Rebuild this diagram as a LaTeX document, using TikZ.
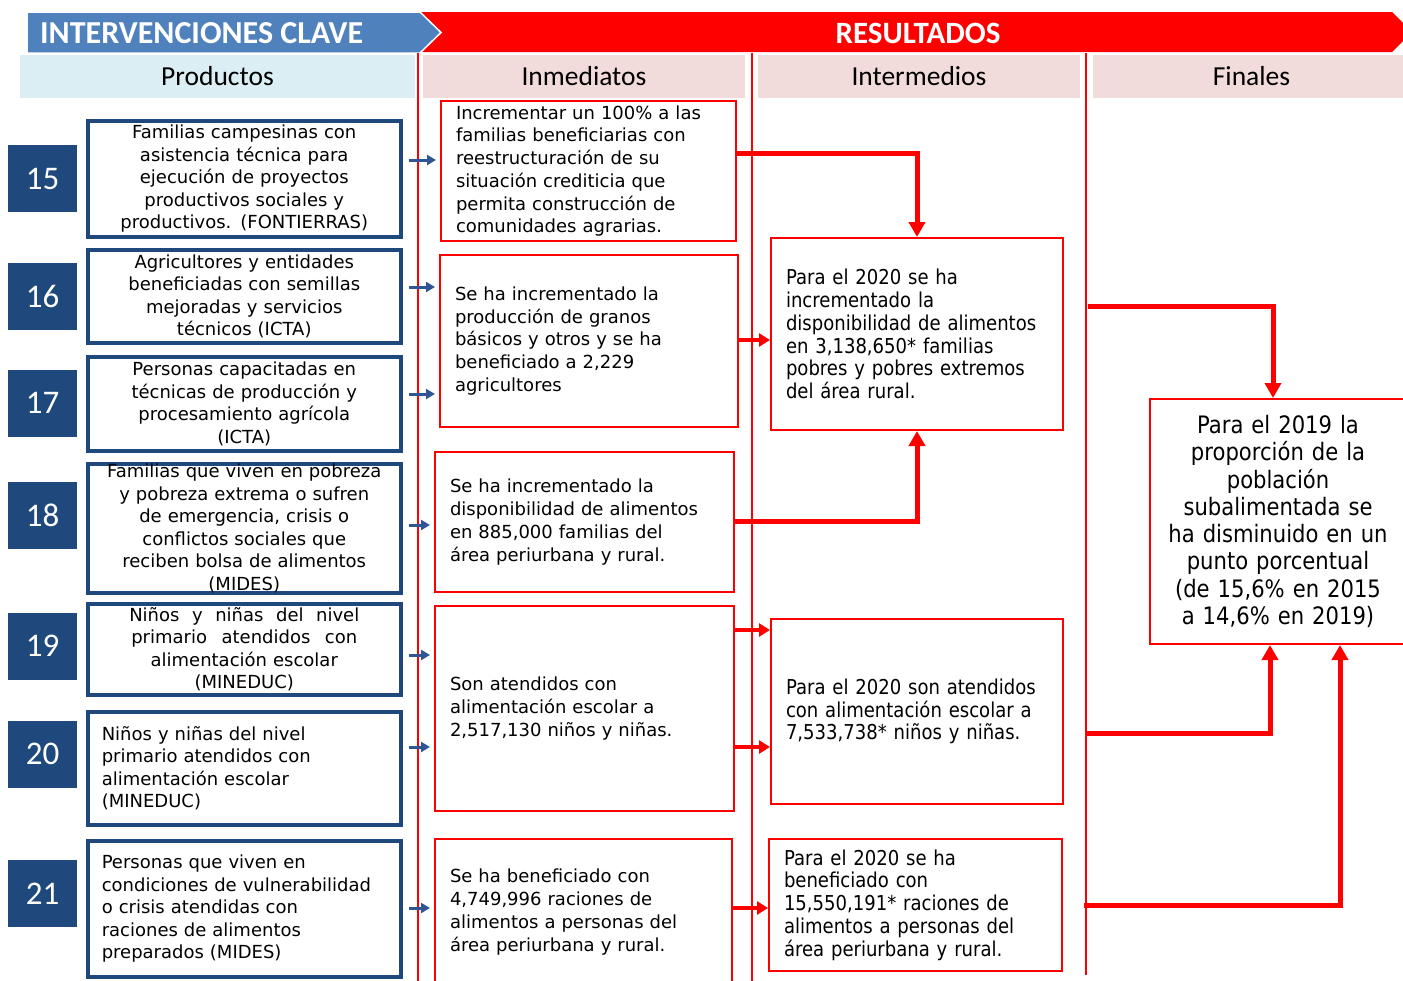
\documentclass[tikz,border=0pt]{standalone}
\usepackage{fontspec}
\setmainfont{DejaVu Sans}
\newfontfamily\hdr{Carlito}
\newfontfamily\cond[FakeStretch=0.88]{DejaVu Sans}
\usetikzlibrary{arrows.meta}
\definecolor{bannerblue}{HTML}{4F81BD}
\definecolor{darkblue}{HTML}{1F497D}
\definecolor{arrowblue}{HTML}{2F5597}
\definecolor{hdrblue}{HTML}{DAEEF3}
\definecolor{hdrpink}{HTML}{F2DCDB}
\definecolor{rred}{HTML}{FF0000}
\begin{document}
\begin{tikzpicture}[x=1pt,y=-1pt,
  pbox/.style={draw=darkblue, line width=3.5pt, fill=white, anchor=north west, inner xsep=8pt, inner ysep=0pt, minimum width=313pt, text width=297pt, align=center, font=\fontsize{18}{22.5}\selectfont},
  pboxl/.style={pbox, inner xsep=14pt, text width=285pt, align=left},
  numbox/.style={fill=darkblue, text=white, minimum width=69pt, minimum height=67pt, inner sep=0pt, font=\hdr\fontsize{33}{33}\selectfont},
  rbox/.style={draw=rred, line width=2pt, fill=white, anchor=north west, inner xsep=15pt, inner ysep=0pt, align=left, font=\fontsize{18}{22.7}\selectfont},
  mbox/.style={rbox, font=\cond\fontsize{20.5}{22.8}\selectfont},
  hdrbox/.style={minimum height=43pt, inner sep=0pt, font=\hdr\fontsize{27.5}{27.5}\selectfont},
  bannertext/.style={text=white, inner sep=0pt, font=\hdr\bfseries\fontsize{32}{32}\selectfont},
  barrow/.style={draw=arrowblue, line width=3pt, -{Triangle[length=9pt,width=10pt]}},
  rarrow/.style={draw=rred, line width=4pt, -{Triangle[length=11pt,width=13pt]}},
  relbow/.style={draw=rred, line width=5pt, -{Triangle[length=15pt,width=16pt]}},
  vline/.style={draw=rred, line width=2pt},
]
\useasboundingbox (0,0) rectangle (1403,980);
\fill[white] (0,0) rectangle (1403,980);

% banners
\fill[rred] (418,12) -- (1392,12) -- (1412,32) -- (1392,52) -- (418,52) -- cycle;
\filldraw[fill=bannerblue, draw=white, line width=1.5pt] (27,12) -- (420,12) -- (441,32.5) -- (420,53) -- (27,53) -- cycle;
\node[bannertext, anchor=west] (tInt) at (40,33) {INTERVENCIONES CLAVE};
\node[bannertext, font=\hdr\bfseries\fontsize{31}{31}\selectfont] (tRes) at (918,33) {RESULTADOS};

% column headers
\node[hdrbox, fill=hdrblue, minimum width=395pt] (hP) at (217.5,76.5) {Productos};
\node[hdrbox, fill=hdrpink, minimum width=322pt] (hI) at (584,76.5) {Inmediatos};
\node[hdrbox, fill=hdrpink, minimum width=322pt] (hM) at (919,76.5) {Intermedios};
\node[hdrbox, fill=hdrpink, minimum width=317pt] (hF) at (1251.5,76.5) {Finales};

% column separators
\draw[vline] (418,53) -- (418,985);
\draw[vline] (752,53) -- (752,985);
\draw[vline] (1086,53) -- (1086,975);

% number squares
\node[numbox] (n15) at (42.5,178.5) {15};
\node[numbox] (n16) at (42.5,296) {16};
\node[numbox] (n17) at (42.5,403) {17};
\node[numbox] (n18) at (42.5,515) {18};
\node[numbox] (n19) at (42.5,646) {19};
\node[numbox] (n20) at (42.5,754) {20};
\node[numbox] (n21) at (42.5,893.5) {21};

% products
\node[pbox, minimum height=116pt] (p15) at (86,119) {Familias campesinas con\\ asistencia técnica para\\ ejecución de proyectos\\ productivos sociales y\\ productivos. (FONTIERRAS)};
\node[pbox, minimum height=93pt] (p16) at (86,248) {Agricultores y entidades\\ beneficiadas con semillas\\ mejoradas y servicios\\ técnicos (ICTA)};
\node[pbox, minimum height=94pt] (p17) at (86,355) {Personas capacitadas en\\ técnicas de producción y\\ procesamiento agrícola\\ (ICTA)};
\node[pbox, minimum height=129pt] (p18) at (86,462) {Familias que viven en pobreza\\ y pobreza extrema o sufren\\ de emergencia, crisis o\\ conflictos sociales que\\ reciben bolsa de alimentos\\ (MIDES)};
\node[pbox, minimum height=91pt] (p19) at (86,602) {\makebox[230pt]{Niños\hfill y\hfill niñas\hfill del\hfill nivel}\\ \makebox[226pt]{primario\hfill atendidos\hfill con}\\ alimentación escolar\\ (MINEDUC)};
\node[pboxl, minimum height=113pt] (p20) at (86,710) {Niños y niñas del nivel\\ primario atendidos con\\ alimentación escolar\\ (MINEDUC)};
\node[pboxl, minimum height=136pt] (p21) at (86,839) {Personas que viven en\\ condiciones de vulnerabilidad\\ o crisis atendidas con\\ raciones de alimentos\\ preparados (MIDES)};

% immediate results
\node[rbox, minimum width=295pt, text width=265pt, minimum height=140pt] (i1) at (440,100) {Incrementar un 100\% a las\\ familias beneficiarias con\\ reestructuración de su\\ situación crediticia que\\ permita construcción de\\ comunidades agrarias.};
\node[rbox, minimum width=298pt, text width=268pt, minimum height=172pt] (i2) at (439,254) {Se ha incrementado la\\ producción de granos\\ básicos y otros y se ha\\ beneficiado a 2,229\\ agricultores};
\node[rbox, minimum width=299pt, text width=269pt, minimum height=140pt] (i3) at (434,451) {Se ha incrementado la\\ disponibilidad de alimentos\\ en 885,000 familias del\\ área periurbana y rural.};
\node[rbox, minimum width=299pt, text width=269pt, minimum height=205pt] (i4) at (434,605) {Son atendidos con\\ alimentación escolar a\\ 2,517,130 niños y niñas.};
\node[rbox, minimum width=297pt, text width=267pt, minimum height=146pt] (i5) at (434,838) {Se ha beneficiado con\\ 4,749,996 raciones de\\ alimentos a personas del\\ área periurbana y rural.};

% intermediate results
\node[mbox, minimum width=292pt, text width=262pt, minimum height=192pt] (m1) at (770,237) {Para el 2020 se ha\\ incrementado la\\ disponibilidad de alimentos\\ en 3,138,650* familias\\ pobres y pobres extremos\\ del área rural.};
\node[mbox, minimum width=292pt, text width=262pt, minimum height=185pt] (m2) at (770,618) {Para el 2020 son atendidos\\ con alimentación escolar a\\ 7,533,738* niños y niñas.};
\node[mbox, minimum width=293pt, text width=263pt, minimum height=132pt] (m3) at (768,838) {Para el 2020 se ha\\ beneficiado con\\ 15,550,191* raciones de\\ alimentos a personas del\\ área periurbana y rural.};

% final result
\node[rbox, font=\cond\fontsize{24}{27.3}\selectfont, align=center, inner xsep=8pt, text width=240pt, minimum width=256pt, minimum height=245pt] (f) at (1149,398) {Para el 2019 la\\ proporción de la\\ población\\ subalimentada se\\ ha disminuido en un\\ punto porcentual\\ (de 15,6\% en 2015\\ a 14,6\% en 2019)};

% helper coordinates
\coordinate (y160) at (0,160);
\coordinate (y287) at (0,287);
\coordinate (y394) at (0,394);
\coordinate (y525) at (0,525);
\coordinate (y655) at (0,655);
\coordinate (y747) at (0,747);
\coordinate (y908) at (0,908);
\coordinate (y340) at (0,340);
\coordinate (y630) at (0,630);
\coordinate (y153) at (0,153);
\coordinate (y521) at (0,521);
\coordinate (x1273) at (1273,0);
\coordinate (x1270) at (1270,0);
\coordinate (x1340) at (1340,0);
\coordinate (s1) at (1088,306);
\coordinate (s2) at (1086,733);
\coordinate (s3) at (1084,905);

% blue arrows
\draw[barrow, shorten <=6pt, shorten >=4pt] (p15.east |- y160) -- (i1.west |- y160);
\draw[barrow, shorten <=6pt, shorten >=4pt] (p16.east |- y287) -- (i2.west |- y287);
\draw[barrow, shorten <=6pt, shorten >=4pt] (p17.east |- y394) -- (i2.west |- y394);
\draw[barrow, shorten <=6pt, shorten >=4pt] (p18.east |- y525) -- (i3.west |- y525);
\draw[barrow, shorten <=6pt, shorten >=4pt] (p19.east |- y655) -- (i4.west |- y655);
\draw[barrow, shorten <=6pt, shorten >=4pt] (p20.east |- y747) -- (i4.west |- y747);
\draw[barrow, shorten <=6pt, shorten >=4pt] (p21.east |- y908) -- (i5.west |- y908);

% red short arrows
\draw[rarrow] (i2.east |- y340) -- (m1.west |- y340);
\draw[rarrow] (i4.east |- y630) -- (m2.west |- y630);
\draw[rarrow] (i4.east |- y747) -- (m2.west |- y747);
\draw[rarrow] (i5.east |- y908) -- (m3.west |- y908);

% red elbow arrows
\draw[relbow] (i1.east |- y153) -| (m1.north);
\draw[relbow] (i3.east |- y521) -| (m1.south);
\draw[relbow] (s1) -| (f.north -| x1273);
\draw[relbow] (s2) -| (f.south -| x1270);
\draw[relbow] (s3) -| (f.south -| x1340);
\end{tikzpicture}
\end{document}
